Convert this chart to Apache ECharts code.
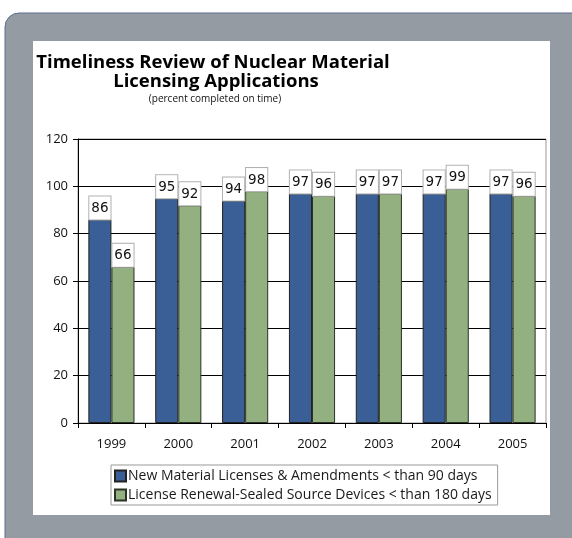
<!DOCTYPE html>
<html>
<head>
<meta charset="utf-8">
<script src="https://cdn.jsdelivr.net/npm/echarts@6/dist/echarts.min.js"></script>
<style>
  html, body { margin: 0; padding: 0; background: #fff; }
  #chart { width: 572px; height: 538px; }
</style>
</head>
<body>
<div id="chart"></div>
<script>
// timeliness of licensing reviews
var years = ["1999", "2000", "2001", "2002", "2003", "2004", "2005"];
var newLicenses = [86, 95, 94, 97, 97, 97, 97];
var renewals = [66, 92, 98, 96, 97, 99, 96];
var yTicks = [0, 20, 40, 60, 80, 100, 120];
var seriesNames = [
  "New Material Licenses & Amendments < than 90 days",
  "License Renewal-Sealed Source Devices < than 180 days"
];

var chart = echarts.init(document.getElementById("chart"));

var labelStyle = {
  show: true,
  position: "top",
  distance: 0,
  color: "#111",
  fontFamily: "DejaVu Sans",
  fontSize: 13.5,
  backgroundColor: "#fff",
  borderColor: "#b0b0b0",
  borderWidth: 1,
  padding: [5, 2, 4, 2]
};

var titleFont = {
  fontFamily: "Open Sans",
  fontWeight: "bold",
  fontSize: 18.5,
  color: "#000"
};

chart.setOption({
  animation: false,
  graphic: [
    {
      type: "rect",
      shape: { x: 5, y: 13, width: 600, height: 560, r: 14 },
      style: { fill: "#959ba2", stroke: "#5b6f92", lineWidth: 1 },
      z: -10
    },
    {
      type: "rect",
      shape: { x: 33, y: 41, width: 517, height: 474 },
      style: { fill: "#fff" },
      z: -9
    }
  ],
  title: [
    {
      text: "Timeliness Review of Nuclear Material",
      left: 213,
      top: 53,
      textAlign: "center",
      padding: 0,
      textStyle: titleFont
    },
    {
      text: "Licensing Applications",
      left: 216,
      top: 72,
      textAlign: "center",
      padding: 0,
      textStyle: titleFont
    },
    {
      text: "(percent completed on time)",
      left: 215,
      top: 94,
      textAlign: "center",
      padding: 0,
      textStyle: {
        fontFamily: "Open Sans",
        fontWeight: "normal",
        fontSize: 10,
        color: "#111"
      }
    }
  ],
  legend: {
    orient: "vertical",
    left: 111,
    top: 465,
    width: 383,
    itemWidth: 11,
    itemHeight: 11,
    itemGap: 5,
    padding: [4, 6, 3, 3],
    borderColor: "#999",
    borderWidth: 1,
    icon: "rect",
    selectedMode: false,
    textStyle: {
      fontFamily: "Open Sans",
      fontSize: 14,
      color: "#1a1a1a",
      padding: [0, 0, 0, -3]
    },
    data: seriesNames
  },
  grid: {
    left: 78,
    right: 26,
    top: 139,
    bottom: 115,
    show: true,
    borderColor: "#999",
    borderWidth: 1,
    backgroundColor: "transparent"
  },
  xAxis: {
    type: "category",
    data: years,
    axisLine: { lineStyle: { color: "#000", width: 1 } },
    axisTick: { show: true, length: 5, lineStyle: { color: "#000" } },
    axisLabel: {
      margin: 15,
      fontFamily: "Open Sans",
      fontSize: 13,
      color: "#111"
    }
  },
  yAxis: {
    type: "value",
    min: yTicks[0],
    max: yTicks[yTicks.length - 1],
    interval: 20,
    axisLine: { show: true, lineStyle: { color: "#000", width: 1 } },
    axisTick: { show: true, length: 5, lineStyle: { color: "#000" } },
    splitLine: { lineStyle: { color: "#000", width: 1 } },
    axisLabel: {
      margin: 10,
      fontFamily: "Open Sans",
      fontSize: 13,
      color: "#111"
    }
  },
  series: [
    {
      name: seriesNames[0],
      type: "bar",
      data: newLicenses,
      barGap: "0%",
      barCategoryGap: "31%",
      itemStyle: { color: "#3a5e96", borderColor: "#222", borderWidth: 1 },
      label: labelStyle
    },
    {
      name: seriesNames[1],
      type: "bar",
      data: renewals,
      itemStyle: { color: "#93b080", borderColor: "#2a3324", borderWidth: 1 },
      label: labelStyle
    }
  ]
});
</script>
</body>
</html>
